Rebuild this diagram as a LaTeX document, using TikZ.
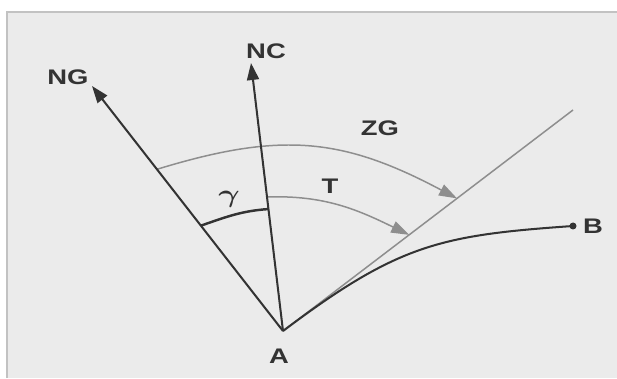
\documentclass[tikz,border=0pt]{standalone}
\usepackage{amsmath}
\usepackage{fontspec}
\setmainfont{Liberation Sans}
\usetikzlibrary{arrows.meta,calc}
\definecolor{bgpanel}{HTML}{EBEBEB}
\definecolor{framegray}{HTML}{C2C2C2}
\definecolor{inkdark}{HTML}{333333}
\definecolor{inkpale}{HTML}{8E8E8E}
\newcommand{\wide}[1]{\scalebox{1.3}[1]{#1}}

\begin{document}
\begin{tikzpicture}[x=0.02cm, y=0.02cm,
  darkline/.style={inkdark, line width=1.15pt},
  paleline/.style={inkpale, line width=0.85pt},
  darktip/.style={-{Triangle[length=0.34cm, width=0.24cm]}},
  paletip/.style={-{Triangle[length=0.36cm, width=0.24cm]}},
  lbl/.style={inkdark, inner sep=0pt, font=\fontsize{12}{14}\selectfont\bfseries}]
  \useasboundingbox (0,0) rectangle (617,378);

  % Panel behind the figure
  \fill[bgpanel] (7,0) rectangle (617,366);
  \draw[framegray, line width=1pt] (7,0) -- (7,366) -- (617,366);

  % Main points
  \coordinate (A) at (283,47);
  \coordinate (ngtip) at (92,292);
  \coordinate (nctip) at (251,315);
  \coordinate (tanend) at (573,268);
  \coordinate (B) at (573,152);

  % Labels
  \node[lbl] (ng) at (68,301) {\wide{NG}};
  \node[lbl] (nc) at (266,327) {\wide{NC}};
  \node[lbl] (a) at (279,22) {\wide{A}};
  \node[lbl] (b) at (593,152) {\wide{B}};
  \node[lbl] (zg) at (380,250) {\wide{ZG}};
  \node[lbl] (t) at (330,192) {\wide{T}};
  \node[inkdark, inner sep=0pt, font=\fontsize{15}{17}\selectfont] (gam) at (229,179) {\wide{$\boldsymbol{\gamma}$}};

  % Tangent line at A
  \draw[paleline] (A) -- (tanend);

  % Angle arcs
  \draw[paleline, paletip] ($(A)!0.66!(ngtip)$) to[out=17, in=152, looseness=1.1] ($(A)!0.6!(tanend)$);
  \draw[paleline, paletip] ($(A)!0.5!(nctip)$) to[out=2, in=154] ($(A)!0.435!(tanend)$);
  \draw[darkline, line width=1.4pt] ($(A)!0.43!(ngtip)$) to[out=19, in=184] ($(A)!0.455!(nctip)$);

  % North directions
  \draw[darkline, darktip] (A) -- (ngtip);
  \draw[darkline, darktip] (A) -- (nctip);

  % Path from A to B
  \draw[darkline] (A) to[out=37, in=184, out looseness=1.2, in looseness=1.1] (B);
  \fill[inkdark] (B) circle (3.5);
\end{tikzpicture}
\end{document}
